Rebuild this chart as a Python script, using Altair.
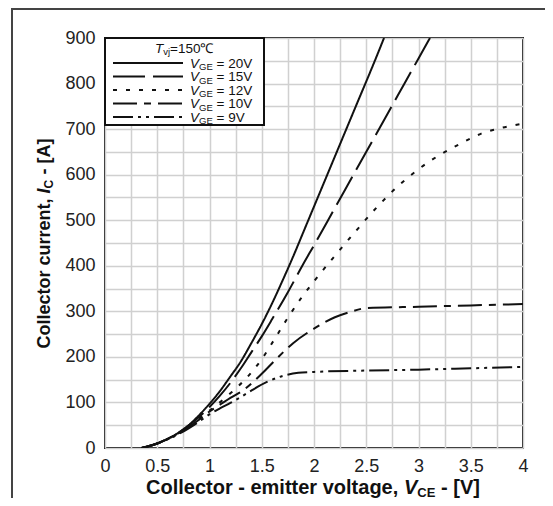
import altair as alt
import pandas as pd

# ---- data ----
series_names = ["20V", "15V", "12V", "10V", "9V"]

v20 = [0.35, 0.5, 0.6, 0.7, 0.8, 0.9, 1.0, 1.1, 1.2, 1.3, 1.4, 1.5, 1.6, 1.7, 1.8, 1.9, 2.0, 2.2, 2.4, 2.6, 2.67]
i20 = [0, 10, 20, 33, 50, 72, 97, 125, 157, 190, 230, 272, 318, 368, 420, 475, 530, 640, 750, 860, 900]

v15 = [0.35, 0.5, 0.7, 0.9, 1.0, 1.1, 1.2, 1.3, 1.4, 1.5, 1.6, 1.75, 1.9, 2.0, 2.2, 2.4, 2.6, 2.8, 3.0, 3.11]
i15 = [0, 10, 33, 68, 90, 115, 143, 175, 210, 245, 283, 342, 405, 445, 527, 609, 691, 773, 855, 900]

v12 = [0.35, 0.5, 0.7, 0.9, 1.0, 1.2, 1.33, 1.5, 1.62, 1.75, 1.88, 2.0, 2.2, 2.4, 2.6, 2.8, 3.0, 3.2, 3.4, 3.6, 3.8, 4.0]
i12 = [0, 10, 32, 65, 82, 120, 148, 195, 238, 286, 330, 366, 422, 476, 528, 574, 612, 643, 668, 690, 703, 712]

v10 = [0.35, 0.5, 0.7, 0.9, 1.0, 1.1, 1.2, 1.33, 1.5, 1.65, 1.8, 2.0, 2.2, 2.35, 2.5, 3.0, 3.5, 4.0]
i10 = [0, 10, 32, 62, 80, 95, 110, 128, 163, 198, 230, 262, 287, 299, 307, 310, 313, 316]

v9 = [0.35, 0.5, 0.7, 0.9, 1.0, 1.1, 1.2, 1.3, 1.4, 1.55, 1.7, 1.85, 2.0, 2.5, 3.0, 3.5, 4.0]
i9 = [0, 10, 30, 58, 74, 87, 99, 112, 126, 145, 158, 165, 167, 170, 172, 175, 178]

x_ticks = [i * 0.25 for i in range(17)]
y_ticks = [i * 50 for i in range(19)]

dashes = [[1, 0], [32, 8], [4, 9], [24, 7, 7, 7], [20, 5, 3, 5, 3, 5]]

rows = []
for name, vs, cs in zip(series_names, [v20, v15, v12, v10, v9], [i20, i15, i12, i10, i9]):
    for v, c in zip(vs, cs):
        rows.append({"series": name, "V": v, "I": c})
df = pd.DataFrame(rows)

FONT = "Liberation Sans"
INK = "#111111"
W, H = 418, 410

lines = alt.Chart(df).mark_line(strokeWidth=2, color=INK, interpolate="monotone", clip=True).encode(
    x=alt.X("V:Q", scale=alt.Scale(domain=[0, 4], nice=False),
            axis=alt.Axis(values=x_ticks, title=None, grid=True, ticks=False, tickSize=0, domain=False,
                          labelExpr="datum.value % 0.5 == 0 ? format(datum.value, '~g') : ''",
                          labelPadding=9, labelFlush=False, labelOverlap=False)),
    y=alt.Y("I:Q", scale=alt.Scale(domain=[0, 900], nice=False),
            axis=alt.Axis(values=y_ticks, title=None, grid=True, ticks=False, tickSize=0, domain=False,
                          labelExpr="datum.value % 100 == 0 ? format(datum.value, 'd') : ''",
                          labelPadding=10, labelFlush=False, labelOverlap=False)),
    strokeDash=alt.StrokeDash("series:N", scale=alt.Scale(domain=series_names, range=dashes), legend=None),
    detail="series:N",
)

one = pd.DataFrame({"k": [0]})


def txt(s, x, y, size, bold=False, italic=False, angle=0):
    return alt.Chart(one).mark_text(
        text=s, align="left", baseline="alphabetic", fontSize=size,
        fontWeight="bold" if bold else "normal", fontStyle="italic" if italic else "normal",
        font=FONT, angle=angle, color=INK,
    ).encode(x=alt.value(x), y=alt.value(y))


layers = [lines]

# outer frame
layers.append(alt.Chart(one).mark_rect(fillOpacity=0, stroke="#444444", strokeWidth=2).encode(
    x=alt.value(-93), x2=alt.value(444), y=alt.value(-29), y2=alt.value(472)))

# legend box
layers.append(alt.Chart(one).mark_rect(fill="white", stroke=INK, strokeWidth=2).encode(
    x=alt.value(0), x2=alt.value(159), y=alt.value(0), y2=alt.value(87)))

# legend title  T_vj=150℃
layers.append(txt("T", 50, 14.5, 13.5, italic=True))
layers.append(txt("vj", 58.2, 17, 9.5))
layers.append(txt("=150℃", 65, 14.5, 13.5))

row_y = [25, 38.5, 52, 65.5, 79]
for name, dash, yy in zip(series_names, dashes, row_y):
    layers.append(alt.Chart(one).mark_rule(strokeWidth=2, color=INK, strokeDash=dash).encode(
        x=alt.value(8), x2=alt.value(78), y=alt.value(yy)))
    layers.append(txt("V", 85, yy + 4.5, 13.5, italic=True))
    layers.append(txt("GE", 94, yy + 7, 9.5))
    layers.append(txt("= " + name, 111.5, yy + 4.5, 13.5))

# x axis title: Collector - emitter voltage, V_CE - [V]
xb = 455.5
layers.append(txt("Collector - emitter voltage,", 41, xb, 20, bold=True))
layers.append(txt("V", 299, xb, 20, bold=True, italic=True))
layers.append(txt("CE", 312.3, xb + 3, 13, bold=True))
layers.append(txt("- [V]", 336, xb, 20, bold=True))

# y axis title: Collector current, I_C - [A]
yx = -55
ys = 310.5
layers.append(txt("Collector current,", yx, ys, 18, bold=True, angle=270))
layers.append(txt("I", yx, ys - 155, 18, bold=True, italic=True, angle=270))
layers.append(txt("C", yx + 3, ys - 160, 12, bold=True, angle=270))
layers.append(txt("- [A]", yx, ys - 174, 18, bold=True, angle=270))

chart = alt.layer(*layers).properties(
    width=W, height=H,
    autosize=alt.AutoSizeParams(type="none"),
    padding={"left": 97, "top": 30, "right": 22, "bottom": 50},
).configure_view(
    stroke=INK, strokeWidth=2
).configure_axis(
    labelFont=FONT, labelFontSize=18, labelColor="#222222",
    gridColor="#d0d0d0", gridWidth=1.5, gridOpacity=1,
)

chart.save("out.html", embed_options={"renderer": "svg", "actions": False})
